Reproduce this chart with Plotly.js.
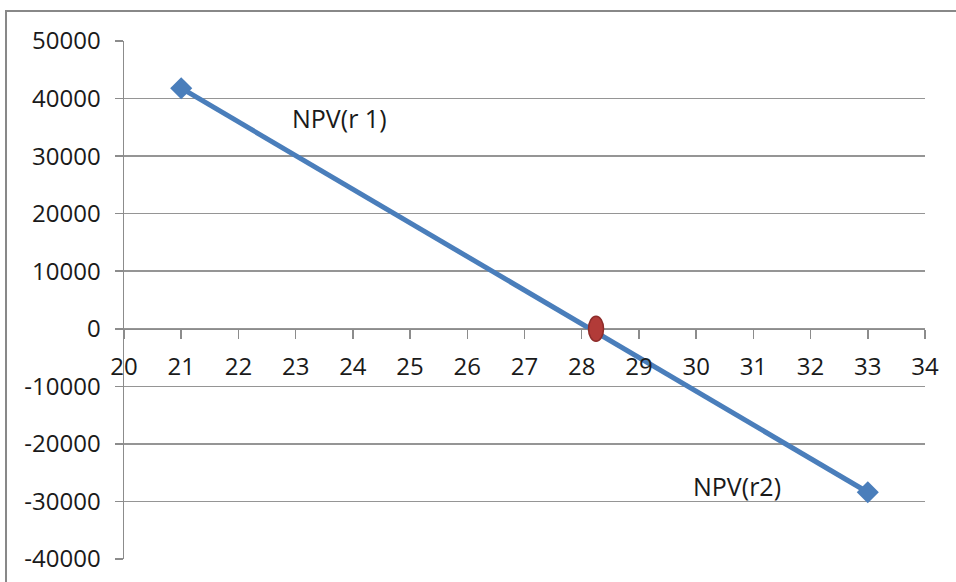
<!DOCTYPE html>
<html>
<head>
<meta charset="utf-8">
<script src="https://cdn.plot.ly/plotly-3.0.1.min.js"></script>
<style>html,body{margin:0;padding:0;background:#fff;}#chart{width:956px;height:582px;}</style>
</head>
<body>
<div id="chart"></div>
<script>
// Data
var rates = [21, 33];
var npv = [41800, -28400];
var irrX = [28.25];
var irrY = [0];
var labelTexts = ["NPV(r 1)", "NPV(r2)"];
var labelX = [23.76, 30.71];
var labelY = [36700, -27400];
var xTicks = [20,21,22,23,24,25,26,27,28,29,30,31,32,33,34];
var yTicks = [-40000,-30000,-20000,-10000,0,10000,20000,30000,40000,50000];

var gray = '#8c8c8c';
var trace = {
  x: rates, y: npv, type: 'scatter', mode: 'lines+markers',
  line: {color: '#4a7ebb', width: 5},
  marker: {symbol: 'diamond', size: 17, color: '#4a7ebb'},
  hoverinfo: 'skip'
};

var annotations = labelTexts.map(function(t, i){
  return {x: labelX[i], y: labelY[i], xref: 'x', yref: 'y', text: t, showarrow: false,
          font: {family: 'Open Sans', size: 25, color: '#1a1a1a'}};
});

var shapes = [
  {type: 'rect', xref: 'paper', yref: 'paper', x0: -0.1473, x1: 1.2, y0: -0.3, y1: 1.0579,
   line: {color: '#888888', width: 2}, layer: 'below'},
  {type: 'circle', xref: 'x', yref: 'y', xsizemode: 'pixel', ysizemode: 'pixel',
   xanchor: irrX[0], yanchor: irrY[0], x0: -7.5, x1: 7.5, y0: -12.5, y1: 12.5,
   fillcolor: '#b23b38', line: {color: '#8e2c2a', width: 1.5}}
];

var layout = {
  width: 956, height: 582,
  margin: {l: 124, r: 31, t: 41, b: 23, pad: 0},
  paper_bgcolor: '#ffffff', plot_bgcolor: '#ffffff',
  showlegend: false,
  font: {family: 'Open Sans', size: 24, color: '#1a1a1a'},
  xaxis: {
    range: [20, 34], tickvals: xTicks, ticktext: xTicks.map(String),
    anchor: 'free', position: 40000/90000,
    showline: true, linecolor: gray, linewidth: 1.5,
    ticks: 'outside', ticklen: 9, tickwidth: 1.5, tickcolor: gray,
    showgrid: false, zeroline: false, ticklabelstandoff: 7,
    tickfont: {family: 'Open Sans', size: 24, color: '#1a1a1a'}
  },
  yaxis: {
    range: [-40000, 50000], tickvals: yTicks, ticktext: yTicks.map(String),
    showline: true, linecolor: gray, linewidth: 1.5,
    ticks: 'outside', ticklen: 8, tickwidth: 1.5, tickcolor: gray,
    showgrid: true, gridcolor: '#959595', gridwidth: 1.5, zeroline: false,
    ticklabelstandoff: 9,
    tickfont: {family: 'Open Sans', size: 24, color: '#1a1a1a'}
  },
  annotations: annotations,
  shapes: shapes
};

Plotly.newPlot('chart', [trace], layout, {staticPlot: true, displayModeBar: false});
</script>
</body>
</html>
